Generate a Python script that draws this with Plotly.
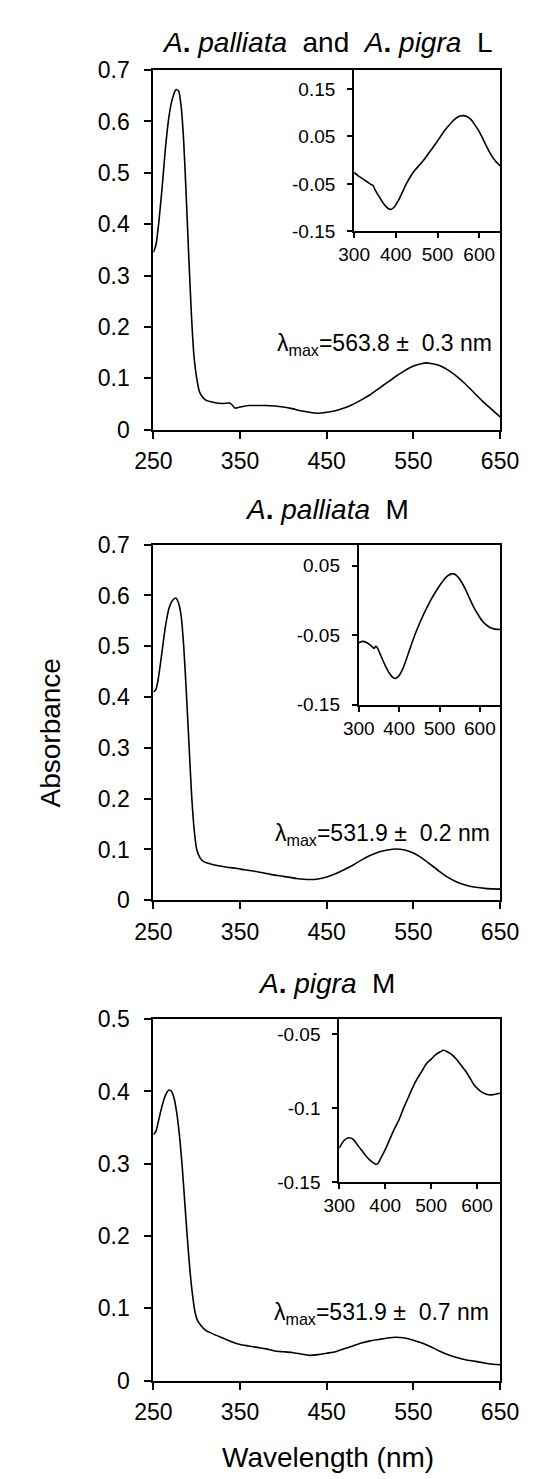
import plotly.graph_objects as go

W, H = 538, 1479

# ---- data ----
# panel 1: A. palliata and A. pigra L
wl_1 = [250, 253, 256, 260, 264, 268, 272, 276, 279, 282, 285, 288, 291, 294, 297, 300,
        303, 306, 310, 320, 330, 338, 341, 344, 350, 360, 370, 380, 390, 400, 410, 420,
        430, 440, 450, 460, 470, 480, 490, 500, 510, 520, 530, 540, 550, 560, 565, 570,
        580, 590, 600, 610, 620, 630, 640, 650]
abs_1 = [0.345, 0.36, 0.40, 0.47, 0.55, 0.61, 0.645, 0.662, 0.66, 0.63, 0.56, 0.45, 0.33,
         0.22, 0.14, 0.10, 0.075, 0.065, 0.058, 0.053, 0.051, 0.052, 0.048, 0.042, 0.044,
         0.047, 0.047, 0.047, 0.046, 0.044, 0.041, 0.037, 0.034, 0.032, 0.034, 0.037,
         0.042, 0.049, 0.058, 0.068, 0.080, 0.092, 0.104, 0.115, 0.124, 0.129, 0.130,
         0.129, 0.125, 0.116, 0.104, 0.089, 0.072, 0.055, 0.040, 0.025]
inset_wl_1 = [300, 310, 320, 330, 340, 345, 350, 360, 370, 380, 388, 395, 405, 415, 425,
              435, 445, 455, 465, 475, 485, 495, 505, 515, 525, 535, 545, 555, 562, 570,
              580, 590, 600, 610, 620, 630, 640, 650]
inset_abs_1 = [-0.026, -0.033, -0.039, -0.045, -0.051, -0.053, -0.062, -0.077, -0.091,
               -0.101, -0.104, -0.100, -0.087, -0.069, -0.050, -0.035, -0.022, -0.012,
               -0.002, 0.010, 0.022, 0.034, 0.047, 0.060, 0.071, 0.081, 0.089, 0.093,
               0.094, 0.092, 0.086, 0.074, 0.060, 0.043, 0.025, 0.009, -0.003, -0.012]

# panel 2: A. palliata M
wl_2 = [250, 253, 256, 260, 264, 268, 272, 276, 279, 282, 285, 288, 291, 294, 297, 300,
        304, 308, 315, 325, 335, 340, 345, 355, 370, 385, 400, 415, 430, 440, 450, 460,
        470, 480, 490, 500, 510, 520, 530, 540, 550, 560, 570, 580, 590, 600, 610, 620,
        635, 650]
abs_2 = [0.41, 0.415, 0.44, 0.49, 0.54, 0.575, 0.59, 0.595, 0.585, 0.56, 0.50, 0.41, 0.31,
         0.21, 0.14, 0.10, 0.083, 0.076, 0.072, 0.068, 0.065, 0.064, 0.063, 0.060, 0.056,
         0.051, 0.047, 0.043, 0.041, 0.042, 0.046, 0.052, 0.060, 0.069, 0.079, 0.088,
         0.095, 0.099, 0.101, 0.099, 0.093, 0.083, 0.070, 0.057, 0.045, 0.036, 0.030,
         0.026, 0.023, 0.022]
inset_wl_2 = [300, 310, 320, 330, 338, 342, 346, 355, 365, 375, 385, 392, 400, 410, 420,
              430, 440, 450, 460, 470, 480, 490, 500, 510, 520, 530, 536, 545, 555, 565,
              575, 585, 595, 605, 615, 625, 635, 650]
inset_abs_2 = [-0.061, -0.059, -0.061, -0.065, -0.069, -0.066, -0.068, -0.080, -0.093,
               -0.104, -0.111, -0.112, -0.108, -0.097, -0.081, -0.064, -0.048, -0.034,
               -0.021, -0.009, 0.002, 0.012, 0.021, 0.029, 0.035, 0.038, 0.038, 0.034,
               0.026, 0.015, 0.002, -0.010, -0.020, -0.029, -0.035, -0.039, -0.041, -0.042]

# panel 3: A. pigra M
wl_3 = [250, 253, 256, 260, 264, 268, 271, 274, 277, 280, 283, 286, 289, 292, 295, 298,
        301, 305, 310, 320, 330, 340, 350, 360, 370, 380, 390, 400, 410, 420, 430, 440,
        450, 460, 470, 480, 490, 500, 510, 520, 530, 540, 550, 560, 570, 580, 590, 600,
        610, 620, 630, 640, 650]
abs_3 = [0.34, 0.345, 0.36, 0.38, 0.395, 0.402, 0.40, 0.39, 0.37, 0.34, 0.30, 0.25, 0.20,
         0.155, 0.12, 0.095, 0.083, 0.076, 0.070, 0.064, 0.059, 0.054, 0.050, 0.048, 0.046,
         0.044, 0.041, 0.040, 0.039, 0.037, 0.035, 0.036, 0.038, 0.040, 0.044, 0.048,
         0.052, 0.055, 0.057, 0.059, 0.060, 0.059, 0.056, 0.052, 0.047, 0.041, 0.036,
         0.032, 0.029, 0.027, 0.025, 0.023, 0.022]
inset_wl_3 = [300, 310, 320, 330, 340, 350, 360, 370, 380, 385, 390, 400, 410, 420, 430,
              440, 450, 460, 470, 480, 490, 500, 510, 520, 527, 535, 545, 555, 565, 575,
              585, 595, 605, 615, 625, 635, 650]
inset_abs_3 = [-0.127, -0.122, -0.120, -0.121, -0.125, -0.129, -0.133, -0.136, -0.138,
               -0.137, -0.134, -0.128, -0.121, -0.114, -0.108, -0.100, -0.093, -0.086,
               -0.080, -0.075, -0.070, -0.067, -0.064, -0.062, -0.061, -0.062, -0.064,
               -0.067, -0.071, -0.075, -0.080, -0.085, -0.088, -0.090, -0.091, -0.091, -0.090]

titles = ["<i>A</i><b>.</b> <i>palliata</i>  and  <i>A</i><b>.</b> <i>pigra</i>  L",
          "<i>A</i><b>.</b> <i>palliata</i>  M",
          "<i>A</i><b>.</b> <i>pigra</i>  M"]
lambda_labels = ["λ<sub>max</sub>=563.8 ±  0.3 nm",
                 "λ<sub>max</sub>=531.9 ±  0.2 nm",
                 "λ<sub>max</sub>=531.9 ±  0.7 nm"]
main_x_ticks = [250, 350, 450, 550, 650]
inset_x_ticks = [300, 400, 500, 600]
inset_y_ticks_1 = [-0.15, -0.05, 0.05, 0.15]
inset_y_text_1 = ["-0.15", "-0.05", "0.05", "0.15"]
inset_y_ticks_2 = [-0.15, -0.05, 0.05]
inset_y_text_2 = ["-0.15", "-0.05", "0.05"]
inset_y_ticks_3 = [-0.15, -0.1, -0.05]
inset_y_text_3 = ["-0.15", "-0.1", "-0.05"]

FONT = "Liberation Sans, Arial, sans-serif"
TICK_MAIN = 23
TICK_INSET = 19
LABEL = 28


def px_x(p):
    return p / W


def px_y(p):
    return 1 - p / H


# pixel boxes: (left, right, top, bottom)
main_boxes = [(136, 509, 50, 416), (136, 509, 533, 895), (136, 509, 1016, 1384)]
inset_boxes = [(352, 509, 50, 214), (357, 509, 533, 696), (336, 509, 1016, 1182)]
title_y = [22, 497, 980]
main_yrange = [[0, 0.7], [0, 0.7], [0, 0.5]]
inset_yrange = [[-0.15, 0.19], [-0.15, 0.08], [-0.15, -0.04]]
inset_yticks = [(inset_y_ticks_1, inset_y_text_1), (inset_y_ticks_2, inset_y_text_2),
                (inset_y_ticks_3, inset_y_text_3)]
lambda_pos = [(643, 0.166), (641, 0.13), (639, 0.093)]

main_data = [(wl_1, abs_1), (wl_2, abs_2), (wl_3, abs_3)]
inset_data = [(inset_wl_1, inset_abs_1), (inset_wl_2, inset_abs_2), (inset_wl_3, inset_abs_3)]

fig = go.Figure()
line = dict(color="black", width=1.6, shape="spline", smoothing=0.6)
axis_common = dict(showline=True, linecolor="black", linewidth=2, mirror=True,
                   ticks="outside", tickcolor="black", tickwidth=2,
                   showgrid=False, zeroline=False)

annotations = []
for i in range(3):
    n_main = 2 * i + 1
    n_in = 2 * i + 2
    xa_m = "x" if n_main == 1 else f"x{n_main}"
    ya_m = "y" if n_main == 1 else f"y{n_main}"
    xa_i, ya_i = f"x{n_in}", f"y{n_in}"

    wl, ab = main_data[i]
    fig.add_trace(go.Scatter(x=wl, y=ab, mode="lines", line=line, xaxis=xa_m, yaxis=ya_m,
                             showlegend=False))
    wl, ab = inset_data[i]
    fig.add_trace(go.Scatter(x=wl, y=ab, mode="lines", line=line, xaxis=xa_i, yaxis=ya_i,
                             showlegend=False))

    l, r, t, b = main_boxes[i]
    key_m = "" if n_main == 1 else str(n_main)
    fig.layout["xaxis" + key_m] = dict(
        axis_common, domain=[px_x(l), px_x(r)], range=[250, 650], tickvals=main_x_ticks,
        ticklen=7, ticklabelstandoff=3,
        tickfont=dict(size=TICK_MAIN, family=FONT, color="black"), anchor=ya_m)
    fig.layout["yaxis" + key_m] = dict(
        axis_common, domain=[px_y(b), px_y(t)], range=main_yrange[i], dtick=0.1,
        ticklen=7, ticklabelstandoff=10,
        tickfont=dict(size=TICK_MAIN, family=FONT, color="black"), anchor=xa_m)

    l, r, t, b = inset_boxes[i]
    tv, tt = inset_yticks[i]
    fig.layout[f"xaxis{n_in}"] = dict(
        axis_common, domain=[px_x(l), px_x(r)], range=[300, 650], tickvals=inset_x_ticks,
        ticklen=5, ticklabelstandoff=0,
        tickfont=dict(size=TICK_INSET, family=FONT, color="black"), anchor=ya_i)
    fig.layout[f"yaxis{n_in}"] = dict(
        axis_common, domain=[px_y(b), px_y(t)], range=inset_yrange[i], tickvals=tv,
        ticktext=tt, ticklen=5, ticklabelstandoff=8,
        tickfont=dict(size=TICK_INSET, family=FONT, color="black"), anchor=xa_i)

    lx, ly = lambda_pos[i]
    annotations.append(dict(text=lambda_labels[i], x=lx, y=ly, xref=xa_m, yref=ya_m,
                            xanchor="right", yanchor="middle", showarrow=False,
                            font=dict(size=TICK_MAIN, family=FONT, color="black")))
    annotations.append(dict(text=titles[i], x=px_x((main_boxes[i][0] + main_boxes[i][1]) / 2),
                            y=px_y(title_y[i]), xref="paper", yref="paper",
                            xanchor="center", yanchor="middle", showarrow=False,
                            font=dict(size=LABEL, family=FONT, color="black")))

annotations.append(dict(text="Absorbance", x=px_x(25), y=px_y(725), xref="paper",
                        yref="paper", textangle=-90, xanchor="center", yanchor="middle",
                        showarrow=False, font=dict(size=LABEL, family=FONT, color="black")))
annotations.append(dict(text="Wavelength (nm)", x=px_x(324), y=px_y(1462), xref="paper",
                        yref="paper", xanchor="center", yanchor="middle", showarrow=False,
                        font=dict(size=LABEL, family=FONT, color="black")))

fig.update_layout(width=W, height=H, margin=dict(l=0, r=0, t=0, b=0),
                  paper_bgcolor="white", plot_bgcolor="white",
                  annotations=annotations, font=dict(family=FONT, color="black"))

fig.write_html("out.html")
